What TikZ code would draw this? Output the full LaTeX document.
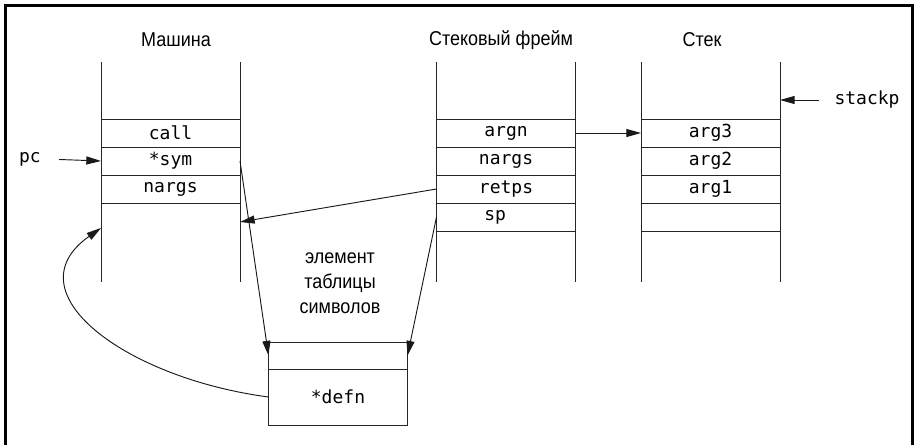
\documentclass[tikz,border=0pt]{standalone}
\usepackage{fontspec}
\setmainfont{Liberation Sans}[FakeStretch=0.9]
\setmonofont{DejaVu Sans Mono}
\usetikzlibrary{arrows.meta}

\begin{document}
\begin{tikzpicture}[
    x=0.75pt, y=-0.75pt,
    line width=0.7pt,
    slot/.style={draw=black!85, minimum width=104.25pt, minimum height=21pt, inner sep=0pt, outer sep=0pt, font=\ttfamily\fontsize{13.5}{15}\selectfont},
    heading/.style={font=\fontsize{15}{18.75}\selectfont, align=center},
    word/.style={font=\ttfamily\fontsize{13.5}{15}\selectfont},
    ptr/.style={-{Triangle[length=11pt, width=6pt]}, draw=black!90},
]
    \useasboundingbox (0,0) rectangle (916,445);

    % Frame
    \draw[line width=2.25pt] (5.5,445) -- (5.5,5.5) -- (912.5,5.5) -- (912.5,445);

    % Titles
    \node[heading] (tmach) at (176,40) {Машина};
    \node[heading] (tframe) at (501,40) {Стековый фрейм};
    \node[heading] (tstack) at (702,40) {Стек};

    % Column sides
    \foreach \x in {101,240,436.5,575.5,641,780}
        \draw[black!85] (\x,62) -- (\x,282);

    % Machine
    \node[slot] (call) at (170.5,133) {call};
    \node[slot] (sym) at (170.5,161) {*sym};
    \node[slot] (mnargs) at (170.5,189) {nargs};

    % Stack frame
    \node[slot] (argn) at (506,133) {argn};
    \node[slot] (fnargs) at (506,161) {nargs};
    \node[slot] (retps) at (506,189) {retps};
    \node[slot] (sp) at (506,217) {sp\phantom{xx}};

    % Stack
    \node[slot] (arg3) at (710.5,133) {arg3};
    \node[slot] (arg2) at (710.5,161) {arg2};
    \node[slot] (arg1) at (710.5,189) {arg1};
    \node[slot] (blank) at (710.5,217) {};

    % Symbol table entry
    \node[heading] (entry) at (340,283) {элемент\\таблицы\\символов};
    \node[slot, minimum height=20.25pt] (eslot) at (338,355.5) {};
    \node[slot, minimum height=42pt] (defn) at (338,397) {*defn};

    % Pointers
    \node[word] (pc) at (30,159) {pc};
    \node[word] (stackp) at (867,100) {stackp};
    \coordinate (stacktop) at (780,100);
    \coordinate (mret) at (240,222);
    \coordinate (mnext) at (101,228);

    % Arrows
    \draw[ptr, shorten <=10pt] (pc.east) -- (sym.west);
    \draw[ptr, shorten <=8pt] (stackp.west) -- (stacktop);
    \draw[ptr] (argn.east) -- (arg3.west);
    \draw[ptr] (retps.west) -- (mret);
    \draw[ptr] (sym.east) -- (eslot.west);
    \draw[ptr] (sp.west) -- (eslot.east);
    \draw[ptr] (defn.west) .. controls (125,378) and (10,292) .. (mnext);
\end{tikzpicture}
\end{document}
